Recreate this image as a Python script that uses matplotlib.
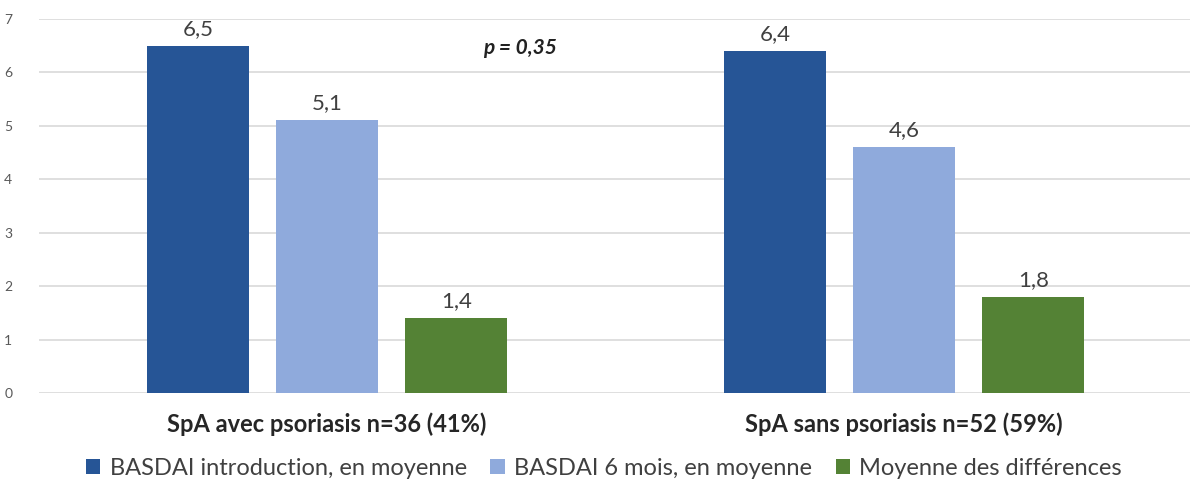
import numpy as np
import matplotlib.pyplot as plt

plt.rcParams['font.family'] = ['Lato', 'DejaVu Sans']

groupes = ['SpA avec psoriasis n=36 (41%)', 'SpA sans psoriasis n=52 (59%)']
series = ['BASDAI introduction, en moyenne', 'BASDAI 6 mois, en moyenne', 'Moyenne des différences']
introduction = [6.5, 6.4]
six_mois = [5.1, 4.6]
differences = [1.4, 1.8]
couleurs = ['#265596', '#8FAADC', '#548235']

fig = plt.figure(figsize=(11.9, 4.83), dpi=100)
ax = fig.add_axes([0.0324, 0.186, 0.9697, 0.775])

x = np.arange(len(groupes))
w = 0.177
d = 0.224
for k, (vals, nom) in enumerate(zip([introduction, six_mois, differences], series)):
    b = ax.bar(x + (k - 1) * d, vals, w, color=couleurs[k], label=nom, zorder=3)
    ax.bar_label(b, labels=[f'{v:.1f}'.replace('.', ',') for v in vals],
                 padding=5, fontsize=16, color='#404040')

ax.text(0.334, 6.46, 'p = 0,35', fontsize=15, fontweight='bold', style='italic',
        ha='center', va='center', color='#222222')

ax.set_xlim(-0.5, 1.5)
ax.set_ylim(0, 7)
ax.set_yticks(range(8))
ax.tick_params(axis='y', length=0, labelsize=10, labelcolor='#595959', pad=19)
ax.tick_params(axis='x', length=0, pad=14)
ax.set_xticks(x)
ax.set_xticklabels(groupes, fontsize=17, fontweight='bold', color='#262626')
ax.grid(axis='y', color='#D9D9D9', linewidth=1.2, zorder=0)
for s in ax.spines.values():
    s.set_visible(False)

ax.legend(loc='center', bbox_to_anchor=(0.49, -0.2), ncol=3, frameon=False,
          fontsize=17, handlelength=0.6, handleheight=0.6, columnspacing=1.0,
          handletextpad=0.4, labelcolor='#404040')

fig.savefig('out.png', dpi=100)
